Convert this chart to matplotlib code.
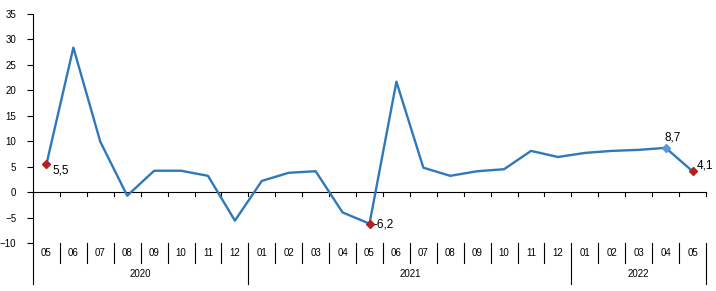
import matplotlib.pyplot as plt
from matplotlib.transforms import blended_transform_factory

plt.rcParams['font.family'] = ['Liberation Sans', 'DejaVu Sans']

# meses 2020-05 ... 2022-05
meses = ['05', '06', '07', '08', '09', '10', '11', '12',
         '01', '02', '03', '04', '05', '06', '07', '08', '09', '10', '11', '12',
         '01', '02', '03', '04', '05']
valores = [5.5, 28.4, 9.9, -0.7, 4.2, 4.2, 3.2, -5.6,
           2.2, 3.8, 4.1, -4.0, -6.2, 21.7, 4.8, 3.2, 4.1, 4.5, 8.1, 6.9,
           7.7, 8.1, 8.3, 8.7, 4.1]
anios = ['2020', '2021', '2022']
mesesPorAnio = [8, 12, 5]
puntosRojos = [0, 12, 24]
puntoAzul = 23

azul = '#2e78bb'
rojo = '#b41f1f'

fig = plt.figure(figsize=(7.16, 2.91), dpi=100)
ax = fig.add_axes([33/716, 1 - 243/291, 673/716, 229/291])

x = list(range(len(valores)))
ax.plot(x, valores, color=azul, linewidth=1.7, zorder=3)
ax.plot([x[i] for i in puntosRojos], [valores[i] for i in puntosRojos],
        linestyle='none', marker='D', markersize=4.5, color=rojo, zorder=4)
ax.plot(x[puntoAzul], valores[puntoAzul], linestyle='none', marker='D',
        markersize=4.5, color='#5b9bd5', zorder=4)

def etiqueta(v):
    return ('%.1f' % v).replace('.', ',')

ax.annotate(etiqueta(valores[0]), (x[0], valores[0]), xytext=(4, -7),
            textcoords='offset points', fontsize=8.5)
ax.annotate(etiqueta(valores[12]), (x[12], valores[12]), xytext=(3, -3),
            textcoords='offset points', fontsize=8.5)
ax.annotate(etiqueta(valores[23]), (x[23], valores[23]), xytext=(-1, 5),
            textcoords='offset points', fontsize=8.5)
ax.annotate(etiqueta(valores[24]), (x[24], valores[24]), xytext=(3, 2),
            textcoords='offset points', fontsize=8.5)

ax.set_xlim(-0.5, len(valores) - 0.5)
ax.set_ylim(-10, 35)
ax.set_yticks(range(-10, 36, 5))
ax.tick_params(axis='y', labelsize=7, length=4, width=0.8, pad=8)
ax.set_xticks([])
for s in ['top', 'right', 'bottom']:
    ax.spines[s].set_visible(False)
ax.spines['left'].set_linewidth(0.8)

# linea del cero con marcas
ax.axhline(0, color='black', linewidth=0.8, zorder=2)
tr = blended_transform_factory(ax.transData, ax.transAxes)
cero = 10 / 45
for k in range(len(valores) + 1):
    ax.plot([k - 0.5, k - 0.5], [cero, cero - 0.018], color='black',
            linewidth=0.8, transform=tr, clip_on=False)

# eje de categorias
limites = [0]
for n in mesesPorAnio:
    limites.append(limites[-1] + n)
for k in range(len(valores) + 1):
    abajo = -0.179 if k in limites else -0.087
    ax.plot([k - 0.5, k - 0.5], [0, abajo], color='black', linewidth=0.8,
            transform=tr, clip_on=False)
for i, m in enumerate(meses):
    ax.text(i, -0.044, m, transform=tr, ha='center', va='center', fontsize=7)
for j, a in enumerate(anios):
    centro = (limites[j] + limites[j + 1]) / 2 - 0.5
    ax.text(centro, -0.135, a, transform=tr, ha='center', va='center',
            fontsize=7)

fig.savefig('out.png', dpi=100)
